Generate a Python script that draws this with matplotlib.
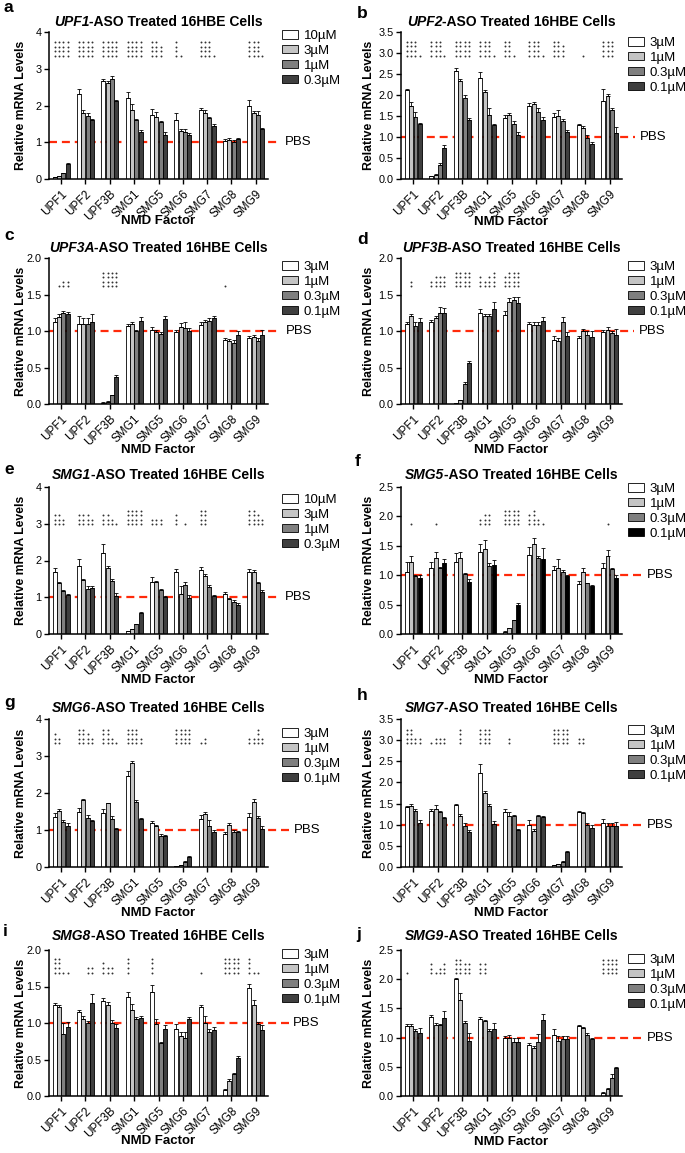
import matplotlib
matplotlib.use("Agg")
import matplotlib.pyplot as plt
import matplotlib.transforms as mtransforms
from matplotlib.patches import Patch
import numpy as np

plt.rcParams['font.family'] = ['Liberation Sans', 'DejaVu Sans']

factors = ["UPF1", "UPF2", "UPF3B", "SMG1", "SMG5", "SMG6", "SMG7", "SMG8", "SMG9"]
targets = ["UPF1", "UPF2", "UPF3A", "UPF3B", "SMG1", "SMG5", "SMG6", "SMG7", "SMG8", "SMG9"]
doses_high = ["10µM", "3µM", "1µM", "0.3µM"]
doses_low = ["3µM", "1µM", "0.3µM", "0.1µM"]
panel_doses = [doses_high, doses_low, doses_low, doses_low, doses_high,
               doses_low, doses_low, doses_low, doses_low, doses_low]
panel_ymax = [4, 3.5, 2.0, 2.0, 4, 2.5, 4, 3.5, 2.0, 2.5]

# mean / SEM / number of asterisks, one row per NMD factor, one column per dose
a_mean = [[0.05, 0.08, 0.15, 0.42], [2.30, 1.80, 1.72, 1.60], [2.68, 2.62, 2.72, 2.12],
          [2.20, 1.88, 1.60, 1.28], [1.75, 1.68, 1.55, 1.20], [1.60, 1.30, 1.28, 1.20],
          [1.88, 1.80, 1.65, 1.45], [1.03, 1.06, 1.02, 1.08], [1.98, 1.80, 1.75, 1.35]]
a_err = [[0.01, 0.01, 0.01, 0.02], [0.15, 0.08, 0.07, 0.04], [0.05, 0.05, 0.08, 0.03],
         [0.18, 0.15, 0.02, 0.05], [0.15, 0.15, 0.02, 0.08], [0.20, 0.07, 0.07, 0.05],
         [0.05, 0.07, 0.03, 0.05], [0.05, 0.06, 0.04, 0.03], [0.18, 0.05, 0.10, 0.05]]
a_sig = [[4, 4, 4, 4], [4, 4, 4, 4], [4, 4, 4, 4], [4, 4, 4, 4], [4, 4, 3, 0],
         [4, 1, 0, 0], [4, 4, 4, 1], [0, 0, 0, 0], [4, 4, 4, 1]]

b_mean = [[2.13, 1.73, 1.48, 1.30], [0.06, 0.10, 0.33, 0.74], [2.58, 2.33, 1.93, 1.40],
          [2.40, 2.07, 1.52, 1.28], [1.45, 1.52, 1.30, 1.05], [1.75, 1.78, 1.60, 1.40],
          [1.48, 1.50, 1.38, 1.12], [1.28, 1.22, 0.97, 0.84], [1.85, 1.98, 1.65, 1.10]]
b_err = [[0.02, 0.10, 0.12, 0.03], [0.01, 0.01, 0.04, 0.08], [0.06, 0.04, 0.08, 0.06],
         [0.15, 0.06, 0.17, 0.03], [0.08, 0.05, 0.08, 0.08], [0.07, 0.06, 0.10, 0.07],
         [0.08, 0.15, 0.05, 0.04], [0.04, 0.05, 0.07, 0.04], [0.30, 0.05, 0.04, 0.15]]
b_sig = [[4, 4, 4, 1], [4, 4, 4, 1], [4, 4, 4, 4], [4, 4, 4, 1], [4, 4, 1, 0],
         [4, 4, 4, 1], [4, 4, 3, 0], [0, 1, 0, 0], [4, 4, 4, 0]]

c_mean = [[1.13, 1.19, 1.24, 1.23], [1.10, 1.10, 1.10, 1.13], [0.02, 0.03, 0.12, 0.37],
          [1.07, 1.10, 1.00, 1.14], [1.02, 0.98, 0.96, 1.16], [0.98, 1.06, 1.04, 1.00],
          [1.08, 1.12, 1.14, 1.18], [0.88, 0.86, 0.84, 0.94], [0.90, 0.92, 0.86, 0.95]]
c_err = [[0.05, 0.04, 0.04, 0.03], [0.10, 0.08, 0.08, 0.10], [0.005, 0.005, 0.01, 0.03],
         [0.03, 0.03, 0.02, 0.05], [0.04, 0.03, 0.02, 0.04], [0.04, 0.05, 0.08, 0.04],
         [0.04, 0.03, 0.04, 0.03], [0.02, 0.03, 0.04, 0.06], [0.03, 0.03, 0.05, 0.07]]
c_sig = [[0, 1, 2, 2], [0, 0, 0, 0], [4, 4, 4, 4], [0, 0, 0, 0], [0, 0, 0, 0],
         [0, 0, 0, 0], [0, 0, 0, 0], [1, 0, 0, 0], [0, 0, 0, 0]]

d_mean = [[1.10, 1.20, 1.07, 1.12], [1.12, 1.18, 1.25, 1.25], [0.01, 0.05, 0.28, 0.56],
          [1.25, 1.20, 1.20, 1.30], [1.22, 1.40, 1.42, 1.38], [1.10, 1.08, 1.08, 1.14],
          [0.88, 0.86, 1.12, 0.93], [0.90, 1.00, 0.95, 0.92], [0.98, 1.02, 0.97, 0.95]]
d_err = [[0.03, 0.03, 0.05, 0.06], [0.03, 0.03, 0.08, 0.06], [0.005, 0.01, 0.02, 0.03],
         [0.05, 0.03, 0.03, 0.10], [0.05, 0.05, 0.05, 0.08], [0.03, 0.04, 0.05, 0.05],
         [0.05, 0.05, 0.07, 0.05], [0.03, 0.03, 0.05, 0.08], [0.03, 0.03, 0.03, 0.08]]
d_sig = [[0, 2, 0, 0], [2, 3, 3, 3], [4, 4, 4, 4], [3, 2, 3, 4], [3, 4, 4, 4],
         [0, 0, 0, 0], [0, 0, 0, 0], [0, 0, 0, 0], [0, 0, 0, 0]]

e_mean = [[1.70, 1.38, 1.18, 1.05], [1.85, 1.48, 1.22, 1.25], [2.20, 1.80, 1.45, 1.03],
          [0.08, 0.13, 0.26, 0.58], [1.42, 1.42, 1.20, 1.00], [1.70, 1.10, 1.32, 0.98],
          [1.75, 1.58, 1.28, 1.03], [1.08, 0.96, 0.88, 0.80], [1.68, 1.70, 1.38, 1.15]]
e_err = [[0.10, 0.04, 0.02, 0.04], [0.20, 0.02, 0.08, 0.05], [0.25, 0.05, 0.05, 0.08],
         [0.01, 0.01, 0.02, 0.03], [0.13, 0.03, 0.02, 0.04], [0.08, 0.20, 0.10, 0.07],
         [0.08, 0.05, 0.04, 0.02], [0.06, 0.03, 0.04, 0.03], [0.10, 0.03, 0.04, 0.05]]
e_sig = [[3, 3, 2, 0], [3, 3, 3, 2], [3, 3, 2, 1], [4, 4, 4, 4], [2, 2, 2, 0],
         [3, 0, 1, 0], [4, 4, 0, 0], [0, 0, 0, 0], [4, 4, 3, 2]]

f_mean = [[1.05, 1.22, 0.98, 0.95], [1.12, 1.30, 1.12, 1.20], [1.22, 1.30, 1.02, 0.88],
          [1.40, 1.45, 1.16, 1.18], [0.04, 0.10, 0.23, 0.50], [1.35, 1.53, 1.30, 1.28],
          [1.08, 1.13, 1.05, 0.98], [0.85, 1.05, 0.86, 0.82], [1.12, 1.33, 1.10, 0.95]]
f_err = [[0.17, 0.10, 0.03, 0.05], [0.10, 0.10, 0.02, 0.07], [0.15, 0.10, 0.02, 0.05],
         [0.13, 0.15, 0.05, 0.08], [0.01, 0.01, 0.01, 0.02], [0.13, 0.10, 0.03, 0.18],
         [0.08, 0.15, 0.03, 0.02], [0.05, 0.08, 0.01, 0.02], [0.08, 0.10, 0.03, 0.05]]
f_sig = [[0, 1, 0, 0], [0, 1, 0, 0], [0, 0, 0, 0], [2, 3, 3, 0], [4, 4, 4, 4],
         [3, 4, 2, 1], [0, 0, 0, 0], [0, 0, 0, 0], [0, 1, 0, 0]]

g_mean = [[1.35, 1.52, 1.22, 1.10], [1.50, 1.80, 1.32, 1.25], [1.45, 1.72, 1.30, 1.02],
          [2.45, 2.82, 1.75, 1.30], [1.18, 1.10, 0.85, 0.85], [0.02, 0.05, 0.13, 0.27],
          [1.30, 1.42, 1.12, 0.95], [0.90, 1.13, 0.95, 0.95], [1.35, 1.75, 1.32, 1.03]]
g_err = [[0.12, 0.05, 0.05, 0.08], [0.10, 0.05, 0.08, 0.03], [0.13, 0.02, 0.08, 0.04],
         [0.15, 0.05, 0.07, 0.03], [0.05, 0.03, 0.05, 0.02], [0.005, 0.01, 0.04, 0.03],
         [0.10, 0.08, 0.15, 0.05], [0.05, 0.05, 0.05, 0.03], [0.10, 0.08, 0.07, 0.07]]
g_sig = [[3, 2, 0, 0], [4, 4, 3, 2], [4, 4, 2, 1], [4, 4, 4, 2], [0, 0, 0, 0],
         [4, 4, 4, 4], [1, 2, 0, 0], [0, 0, 0, 0], [2, 2, 4, 2]]

h_mean = [[1.42, 1.45, 1.32, 1.05], [1.32, 1.37, 1.30, 1.15], [1.47, 1.20, 0.98, 0.82],
          [2.22, 1.75, 1.45, 1.02], [1.30, 1.20, 1.20, 0.88], [1.00, 0.85, 1.20, 1.18],
          [0.05, 0.06, 0.13, 0.35], [1.30, 1.28, 1.00, 0.93], [1.05, 0.97, 0.98, 0.98]]
h_err = [[0.03, 0.05, 0.05, 0.05], [0.05, 0.10, 0.03, 0.03], [0.03, 0.05, 0.07, 0.05],
         [0.22, 0.05, 0.05, 0.06], [0.08, 0.10, 0.02, 0.03], [0.10, 0.05, 0.04, 0.03],
         [0.005, 0.005, 0.02, 0.02], [0.03, 0.03, 0.05, 0.07], [0.08, 0.08, 0.05, 0.08]]
h_sig = [[4, 4, 2, 2], [1, 2, 2, 2], [0, 4, 0, 0], [4, 4, 4, 0], [0, 2, 0, 0],
         [0, 0, 0, 0], [4, 4, 4, 4], [2, 2, 0, 0], [0, 0, 0, 0]]

i_mean = [[1.25, 1.22, 0.85, 0.95], [1.15, 1.05, 1.00, 1.28], [1.30, 1.25, 1.00, 0.93],
          [1.35, 1.18, 1.05, 1.07], [1.42, 0.98, 0.72, 0.92], [0.92, 0.82, 0.80, 1.05],
          [1.22, 1.00, 0.88, 0.90], [0.08, 0.20, 0.30, 0.52], [1.48, 1.25, 0.98, 0.90]]
i_err = [[0.03, 0.03, 0.15, 0.07], [0.03, 0.05, 0.03, 0.12], [0.04, 0.04, 0.04, 0.06],
         [0.08, 0.08, 0.03, 0.03], [0.10, 0.08, 0.02, 0.05], [0.06, 0.05, 0.08, 0.03],
         [0.02, 0.10, 0.04, 0.04], [0.01, 0.03, 0.02, 0.03], [0.06, 0.07, 0.04, 0.07]]
i_sig = [[4, 4, 1, 1], [0, 0, 2, 2], [3, 2, 2, 0], [4, 0, 0, 0], [4, 0, 0, 0],
         [0, 0, 0, 0], [1, 0, 0, 0], [4, 4, 4, 4], [4, 1, 1, 0]]

j_mean = [[1.20, 1.20, 1.12, 1.08], [1.35, 1.22, 1.22, 1.33], [2.00, 1.65, 1.25, 0.95],
          [1.32, 1.28, 1.12, 1.15], [1.00, 1.00, 0.92, 0.92], [0.87, 0.82, 0.92, 1.30],
          [1.05, 0.95, 0.98, 0.98], [1.20, 1.17, 1.05, 0.97], [0.05, 0.12, 0.30, 0.48]]
j_err = [[0.03, 0.03, 0.02, 0.08], [0.04, 0.03, 0.02, 0.12], [0.02, 0.12, 0.03, 0.13],
         [0.04, 0.02, 0.02, 0.10], [0.03, 0.05, 0.08, 0.07], [0.04, 0.03, 0.15, 0.10],
         [0.10, 0.08, 0.04, 0.05], [0.02, 0.02, 0.03, 0.03], [0.01, 0.02, 0.07, 0.02]]
j_sig = [[1, 0, 0, 0], [3, 1, 2, 3], [4, 4, 3, 3], [3, 3, 0, 0], [0, 0, 0, 0],
         [0, 0, 0, 0], [0, 0, 0, 0], [0, 0, 0, 0], [4, 4, 4, 4]]

means = [a_mean, b_mean, c_mean, d_mean, e_mean, f_mean, g_mean, h_mean, i_mean, j_mean]
errs = [a_err, b_err, c_err, d_err, e_err, f_err, g_err, h_err, i_err, j_err]
sigs = [a_sig, b_sig, c_sig, d_sig, e_sig, f_sig, g_sig, h_sig, i_sig, j_sig]

# ---- layout (figure pixels) ----
W, H = 685, 1153
fig = plt.figure(figsize=(W / 100, H / 100), dpi=100)
cols = [(49, 268), (401, 622)]
rows = [(32, 179), (258, 404), (487, 634), (719, 867), (950, 1096)]
letter_pos = [(4, 8), (357, 13), (4, 235), (357, 239), (4, 469),
              (355, 461), (4, 702), (357, 695), (3, 931), (356, 935)]
legend_drop = [-2, 5, 3, 3, 7, -4, 9, 6, -1, 4]
title_gap = [2.5, 2.5, 3.5, 3.5, 5, 5, 4, 4, 7, 7]
xlabel_gap = [42, 43, 46, 46, 46, 46, 46, 46, 45, 46]
pbs_end = [278, 635, 278, 634, 278, 644, 292, 644, 291, 642]
pbs_text = [285, 640, 286, 639, 285, 647, 294, 647, 293, 647]
sig_base = [0.837, 0.84, 0.805, 0.805, 0.745, 0.746, 0.835, 0.835, 0.845, 0.84]

grays = ['white', '#c4c4c4', '#7f7f7f', '#3f3f3f']
pbs_red = '#ff2a0a'
bar_w = 0.16
bar_step = 0.18
x = np.arange(len(factors))

titles = []
for p in range(10):
    r, c = divmod(p, 2)
    left, right = cols[c]
    top, bottom = rows[r]
    wpx, hpx = right - left, bottom - top
    ax = fig.add_axes([left / W, 1 - bottom / H, wpx / W, hpx / H])

    colors = list(grays)
    if p == 5:
        colors[3] = 'black'
    m = np.array(means[p])
    e = np.array(errs[p])
    for k in range(4):
        xs = x + (k - 1.5) * bar_step
        ax.bar(xs, m[:, k], width=bar_w, color=colors[k], edgecolor='black', linewidth=0.6,
               yerr=[np.zeros(len(factors)), e[:, k]], zorder=2,
               error_kw=dict(ecolor='black', elinewidth=0.6, capsize=1.3, capthick=0.6))

    # significance asterisks drawn as stacked dots
    trans = mtransforms.blended_transform_factory(ax.transData, ax.transAxes)
    step = 4.6 / hpx
    for gi in range(len(factors)):
        for k in range(4):
            n = sigs[p][gi][k]
            if n:
                ys = [sig_base[p] + j * step for j in range(n)]
                ax.plot([x[gi] + (k - 1.5) * bar_step] * n, ys, 'o', ms=1.4, color='#333333',
                        mec='none', transform=trans, clip_on=False)

    # PBS reference line
    ptrans = mtransforms.blended_transform_factory(ax.transAxes, ax.transData)
    ax.plot([0, (pbs_end[p] - left) / wpx], [1, 1], color=pbs_red, lw=1.6,
            dashes=(3.6, 2.2), transform=ptrans, clip_on=False, zorder=1)
    ax.text((pbs_text[p] - left) / wpx, 1, "PBS", transform=ptrans, fontsize=9.5,
            va='center', ha='left')

    ymax = panel_ymax[p]
    ax.set_xlim(-0.5, len(factors) - 0.5)
    ax.set_ylim(0, ymax)
    if ymax == 4:
        ax.set_yticks([0, 1, 2, 3, 4])
        ax.set_yticklabels(["0", "1", "2", "3", "4"])
    else:
        ticks = np.arange(0, ymax + 0.01, 0.5)
        ax.set_yticks(ticks)
        ax.set_yticklabels([f"{t:.1f}" for t in ticks])
    ax.set_xticks(x)
    ax.set_xticklabels(factors, rotation=45, ha='right', va='top', rotation_mode='anchor')
    ax.tick_params(axis='both', width=1.0, length=3.5, colors='black')
    ax.tick_params(axis='y', labelsize=7.8, pad=2)
    ax.tick_params(axis='x', labelsize=8.5, pad=3)
    for s in ['top', 'right']:
        ax.spines[s].set_visible(False)
    for s in ['left', 'bottom']:
        ax.spines[s].set_linewidth(1.1)

    ax.set_ylabel("Relative mRNA Levels", fontsize=8.8, fontweight='bold')
    ax.yaxis.set_label_coords(-(21.5 if c == 0 else 26) / wpx, 0.5)
    ax.set_xlabel("NMD Factor", fontsize=9.5, fontweight='bold', va='top')
    ax.xaxis.set_label_coords(0.5, -(xlabel_gap[p] - 6) / hpx)

    handles = [Patch(facecolor=colors[k], edgecolor='black', linewidth=0.6) for k in range(4)]
    lx = 1.064 if c == 0 else (628 - left) / wpx
    ax.legend(handles, panel_doses[p], loc='upper left',
              bbox_to_anchor=(lx, 1 - legend_drop[p] / hpx), frameon=False, fontsize=9.5,
              handlelength=1.2, handleheight=0.6, handletextpad=0.45, labelspacing=0.22,
              borderpad=0, borderaxespad=0)

    t1 = ax.text(0, 1 + title_gap[p] / hpx, targets[p], transform=ax.transAxes, fontsize=10,
                 fontweight='bold', fontstyle='italic', ha='left', va='bottom')
    t2 = ax.annotate("-ASO Treated 16HBE Cells", xy=(1, 0), xycoords=t1, fontsize=10,
                     fontweight='bold', ha='left', va='bottom')
    titles.append((ax, t1, t2))

    lx_px, ly_px = letter_pos[p]
    fig.text(lx_px / W, 1 - ly_px / H, "abcdefghij"[p], fontsize=12.5, fontweight='bold',
             ha='left', va='center')

# centre the two-part titles over their axes
fig.canvas.draw()
for ax, t1, t2 in titles:
    wt = t1.get_window_extent().width + t2.get_window_extent().width
    t1.set_x(0.5 - wt / 2 / ax.get_window_extent().width)

fig.savefig("out.png", dpi=100, facecolor='white')
